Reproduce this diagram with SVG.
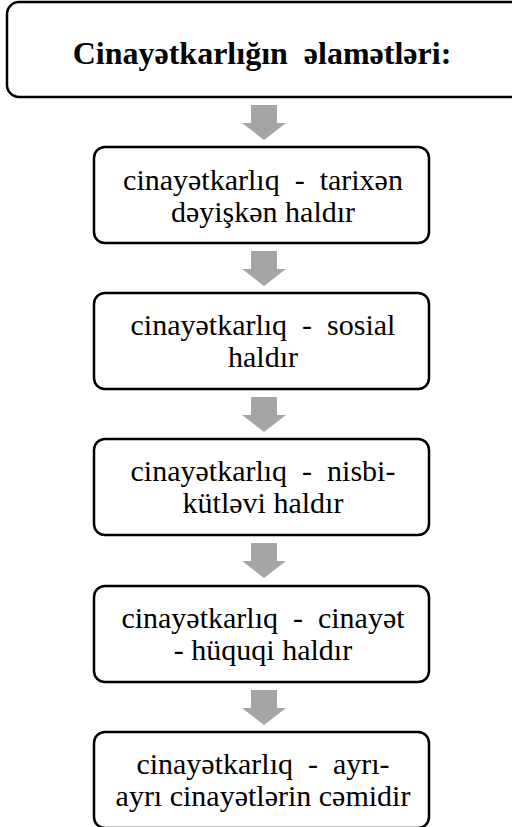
<svg xmlns="http://www.w3.org/2000/svg" width="512" height="827" viewBox="0 0 512 827">
<style>
.box{fill:#fff;stroke:#000;stroke-width:2.5}
.t{font-family:"Liberation Serif","Times New Roman",serif;font-size:30px;fill:#000;text-anchor:middle}
.h{font-family:"Liberation Serif","Times New Roman",serif;font-size:32px;font-weight:bold;fill:#000;text-anchor:middle}
.arr{fill:#a5a5a5}
</style>
<defs>
<polygon id="arrow" class="arr" points="-13,0 13,0 13,18 22,18 0,35 -22,18 -13,18"/>
</defs>
<rect width="512" height="827" fill="#fff"/>
<g id="connectors">
<use href="#arrow" x="264" y="105"/>
<use href="#arrow" x="264" y="251"/>
<use href="#arrow" x="264" y="397"/>
<use href="#arrow" x="264" y="543"/>
<use href="#arrow" x="264" y="690"/>
</g>
<g id="title">
<rect class="box" x="7" y="2" width="520" height="95" rx="12"/>
<text class="h" x="262" y="64" xml:space="preserve">Cinayətkarlığın  əlamətləri:</text>
</g>
<g id="n1">
<rect class="box" x="94" y="147" width="335" height="96" rx="11"/>
<text class="t" x="263" y="190" xml:space="preserve">cinayətkarlıq  -  tarixən</text>
<text class="t" x="263" y="222">dəyişkən haldır</text>
</g>
<g id="n2">
<rect class="box" x="94" y="293" width="335" height="96" rx="11"/>
<text class="t" x="263" y="335" xml:space="preserve">cinayətkarlıq  -  sosial</text>
<text class="t" x="263" y="367">haldır</text>
</g>
<g id="n3">
<rect class="box" x="94" y="439" width="335" height="96" rx="11"/>
<text class="t" x="263" y="481" xml:space="preserve">cinayətkarlıq  -  nisbi-</text>
<text class="t" x="263" y="513">kütləvi haldır</text>
</g>
<g id="n4">
<rect class="box" x="94" y="586" width="335" height="96" rx="11"/>
<text class="t" x="263" y="628" xml:space="preserve">cinayətkarlıq  -  cinayət</text>
<text class="t" x="263" y="660">- hüquqi haldır</text>
</g>
<g id="n5">
<rect class="box" x="94" y="732" width="335" height="96" rx="11"/>
<text class="t" x="263" y="774" xml:space="preserve">cinayətkarlıq  -  ayrı-</text>
<text class="t" x="263" y="806">ayrı cinayətlərin cəmidir</text>
</g>
</svg>
